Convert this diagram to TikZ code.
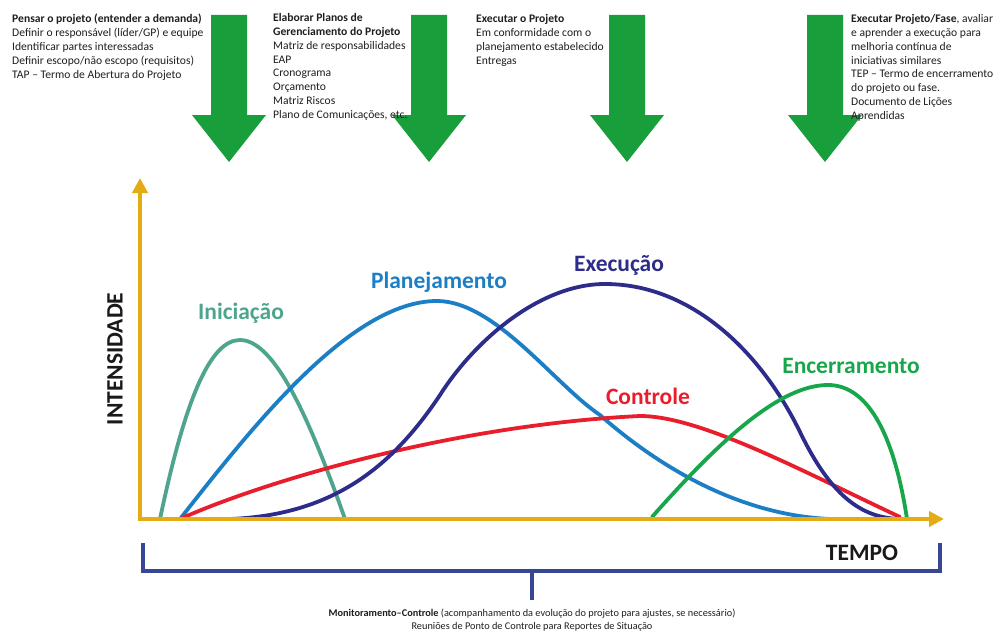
\documentclass[tikz,border=0pt]{standalone}
\usepackage{fontspec}
\setmainfont{Carlito}
\usetikzlibrary{arrows.meta}
\definecolor{arrowgreen}{RGB}{24,158,58}
\definecolor{axisgold}{RGB}{228,172,18}
\definecolor{bracketblue}{RGB}{56,70,150}
\definecolor{cini}{RGB}{78,164,140}
\definecolor{cplan}{RGB}{28,126,196}
\definecolor{cexec}{RGB}{46,44,138}
\definecolor{cctrl}{RGB}{232,30,45}
\definecolor{cenc}{RGB}{24,166,74}
\definecolor{txt}{RGB}{30,30,30}
\tikzset{
  phasetext/.style={anchor=north west, inner sep=0pt, align=left, text=txt,
    font=\fontsize{11.6}{13.9}\selectfont},
  curve/.style={line width=3.8pt, line cap=round},
  curvelabel/.style={font=\fontsize{23.5}{26}\selectfont\bfseries, inner sep=0pt},
  axislabel/.style={font=\fontsize{23.5}{26}\selectfont\bfseries, text=black!90, inner sep=0pt},
  axisline/.style={line width=4pt, axisgold,
    {Triangle[length=15pt,width=15pt]}-{Triangle[length=15pt,width=15pt]}},
  bracketline/.style={line width=4.5pt, bracketblue},
  downarrow/.pic={
    \fill[arrowgreen] (-18,0) -- (18,0) -- (18,100) -- (37,100) -- (0,147)
      -- (-37,100) -- (-18,100) -- cycle;
  }
}
\begin{document}
\begin{tikzpicture}[x=1pt,y=-1pt]
\useasboundingbox (0,0) rectangle (996,634);

% phase arrows
\pic at (229,15) {downarrow};
\pic at (429,15) {downarrow};
\pic at (627,15) {downarrow};
\pic at (825,15) {downarrow};

% phase descriptions
\node[phasetext] (t1) at (12,14) {\textbf{Pensar o projeto (entender a demanda)}\\
Definir o responsável (líder/GP) e equipe\\
Identificar partes interessadas\\
Definir escopo/não escopo (requisitos)\\
TAP – Termo de Abertura do Projeto};
\node[phasetext] (t2) at (273,13) {\textbf{Elaborar Planos de}\\
\textbf{Gerenciamento do Projeto}\\
Matriz de responsabilidades\\
EAP\\
Cronograma\\
Orçamento\\
Matriz Riscos\\
Plano de Comunicações, etc.};
\node[phasetext] (t3) at (476,14) {\textbf{Executar o Projeto}\\
Em conformidade com o\\
planejamento estabelecido\\
Entregas};
\node[phasetext] (t4) at (851,14) {\textbf{Executar Projeto/Fase}, avaliar\\
e aprender a execução para\\
melhoria contínua de\\
iniciativas similares\\
TEP – Termo de encerramento\\
do projeto ou fase.\\
Documento de Lições\\
Aprendidas};

% phase curves
\draw[curve, cini] (160,519) .. controls (185,400) and (210,340) .. (240,340)
  .. controls (275,340) and (310,420) .. (345,519);
\draw[curve, cplan] (180,519) .. controls (250,430) and (350,301) .. (437,301)
  .. controls (495,301) and (555,385) .. (600,415)
  .. controls (660,468) and (740,515) .. (830,519);
\draw[curve, cctrl] (180,519) .. controls (260,483) and (450,425) .. (640,416)
  .. controls (700,416) and (800,470) .. (900,517);
\draw[curve, cexec] (230,519) .. controls (330,515) and (390,470) .. (440,395)
  .. controls (475,340) and (540,284) .. (605,284)
  .. controls (690,284) and (760,350) .. (800,432)
  .. controls (830,494) and (860,518) .. (900,519);
\draw[curve, cenc] (652,517) .. controls (720,440) and (780,385) .. (828,385)
  .. controls (870,385) and (895,440) .. (907,519);

% curve labels
\node[curvelabel, text=cini] (lini) at (241,313) {Iniciação};
\node[curvelabel, text=cplan] (lplan) at (439,282) {Planejamento};
\node[curvelabel, text=cexec] (lexec) at (619,265) {Execução};
\node[curvelabel, text=cctrl] (lctrl) at (648,396) {Controle};
\node[curvelabel, text=cenc] (lenc) at (851,366) {Encerramento};

% axes
\coordinate (ytop) at (140,178);
\coordinate (origin) at (140,519);
\coordinate (xend) at (944,519);
\draw[axisline] (ytop) -- (origin) -- (xend);
\node[axislabel, rotate=90] (ylab) at (115,359) {INTENSIDADE};
\node[axislabel] (xlab) at (862,553) {TEMPO};

% monitoring bracket
\coordinate (bl) at (143,543);
\coordinate (br) at (940,543);
\coordinate (bm) at (532,571);
\coordinate (bt) at (532,600);
\draw[bracketline] (bl) -- (143,571) -- (940,571) -- (br);
\draw[bracketline] (bm) -- (bt);
\node[inner sep=0pt, align=center, text=txt, font=\fontsize{10.3}{12.6}\selectfont,
  anchor=north] (mon) at (532,609)
  {\textbf{Monitoramento–Controle} (acompanhamento da evolução do projeto para ajustes, se necessário)\\
   Reuniões de Ponto de Controle para Reportes de Situação};
\end{tikzpicture}
\end{document}
